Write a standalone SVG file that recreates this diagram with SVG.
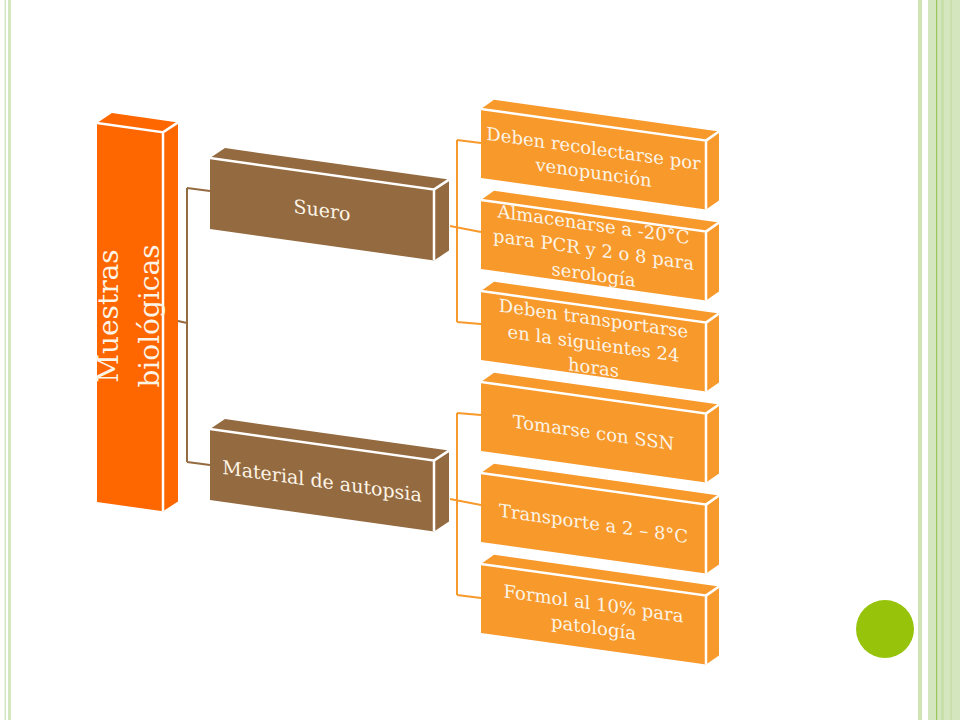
<svg xmlns="http://www.w3.org/2000/svg" width="960" height="720" viewBox="0 0 960 720">
<defs>
<style>
.main{fill:#fe6600}
.brown{fill:#946a40}
.org{fill:#f7992b}
.edge{fill:none;stroke:#ffffff;stroke-width:2.5;stroke-linejoin:miter}
.t{font-family:"DejaVu Serif","Liberation Serif",serif;fill:#fcf4e6;text-anchor:middle}
.t18{font-size:18px}
.t19{font-size:19px}
.t28{font-size:28px}
.cb{fill:none;stroke:#946a40;stroke-width:2}
.co{fill:none;stroke:#f7992b;stroke-width:2}
</style>
</defs>
<rect x="0" y="0" width="960" height="720" fill="#ffffff"/>
<g id="border">
<rect x="4.5" y="0" width="1.5" height="720" fill="#d3e6bd"/>
<rect x="8" y="0" width="3" height="720" fill="#d3e6bd"/>
<rect x="918" y="0" width="4" height="720" fill="#cfe3b5"/>
<rect x="928" y="0" width="32" height="720" fill="#d3e6bd"/>
<rect x="936" y="0" width="1.2" height="720" fill="#9cc55c"/>
<rect x="941" y="0" width="3" height="720" fill="#c7dfa9"/>
<rect x="950" y="0" width="2" height="720" fill="#c9e0ad"/>
<circle cx="885" cy="629" r="29" fill="#97c30a"/>
</g>
<g id="connectors">
<path class="cb" d="M187,188 V462 M187,188 L210,191 M187,462 L210,465 M178,321 L187,323"/>
<path class="co" d="M457,140 V322 M457,140 L481,143 M457,322 L481,324 M450,226 L481,232"/>
<path class="co" d="M457,413 V595 M457,413 L481,415 M457,595 L481,598 M450,499 L481,505"/>
</g>
<g id="n-muestras">
<g transform="translate(97,123) skewY(8)">
<path class="main" d="M0,0 L15,-12 L81,-12 L81,367 L66,379 L0,379 Z"/>
<path class="edge" d="M0,0 H66 V379 M66,0 L81,-12"/>
</g>
<text class="t t28" transform="translate(118,316) rotate(-90)">Muestras</text>
<text class="t t28" transform="translate(159,316) rotate(-90)">biológicas</text>
</g>
<g id="n-suero" transform="translate(210,158) skewY(8)">
<path class="brown" d="M0,0 L15,-12 L239,-12 L239,59 L224,71 L0,71 Z"/>
<path class="edge" d="M0,0 H224 V71 M224,0 L239,-12"/>
<text class="t t19" x="112" y="43">Suero</text>
</g>
<g id="n-autopsia" transform="translate(210,429) skewY(8)">
<path class="brown" d="M0,0 L15,-12 L239,-12 L239,59 L224,71 L0,71 Z"/>
<path class="edge" d="M0,0 H224 V71 M224,0 L239,-12"/>
<text class="t t19" x="112" y="43">Material de autopsia</text>
</g>
<g id="n-s1" transform="translate(481,109) skewY(8)">
<path class="org" d="M0,0 L13,-11 L238,-11 L238,58 L225,69 L0,69 Z"/>
<path class="edge" d="M0,0 H225 V69 M225,0 L238,-11"/>
<text class="t t18" x="112.5" y="30">Deben recolectarse por</text>
<text class="t t18" x="112.5" y="54">venopunción</text>
</g>
<g id="n-s2" transform="translate(481,200) skewY(8)">
<path class="org" d="M0,0 L13,-11 L238,-11 L238,58 L225,69 L0,69 Z"/>
<path class="edge" d="M0,0 H225 V69 M225,0 L238,-11"/>
<text class="t t18" x="112.5" y="15">Almacenarse a -20°C</text>
<text class="t t18" x="112.5" y="40">para PCR y 2 o 8 para</text>
<text class="t t18" x="112.5" y="65">serología</text>
</g>
<g id="n-s3" transform="translate(481,291) skewY(8)">
<path class="org" d="M0,0 L13,-11 L238,-11 L238,58 L225,69 L0,69 Z"/>
<path class="edge" d="M0,0 H225 V69 M225,0 L238,-11"/>
<text class="t t18" x="112.5" y="18">Deben transportarse</text>
<text class="t t18" x="112.5" y="43">en la siguientes 24</text>
<text class="t t18" x="112.5" y="67">horas</text>
</g>
<g id="n-a1" transform="translate(481,382) skewY(8)">
<path class="org" d="M0,0 L13,-11 L238,-11 L238,58 L225,69 L0,69 Z"/>
<path class="edge" d="M0,0 H225 V69 M225,0 L238,-11"/>
<text class="t t18" x="112.5" y="41">Tomarse con SSN</text>
</g>
<g id="n-a2" transform="translate(481,473) skewY(8)">
<path class="org" d="M0,0 L13,-11 L238,-11 L238,58 L225,69 L0,69 Z"/>
<path class="edge" d="M0,0 H225 V69 M225,0 L238,-11"/>
<text class="t t18" x="112.5" y="41">Transporte a 2 – 8°C</text>
</g>
<g id="n-a3" transform="translate(481,564) skewY(8)">
<path class="org" d="M0,0 L13,-11 L238,-11 L238,58 L225,69 L0,69 Z"/>
<path class="edge" d="M0,0 H225 V69 M225,0 L238,-11"/>
<text class="t t18" x="112.5" y="30">Formol al 10% para</text>
<text class="t t18" x="112.5" y="54">patología</text>
</g>
</svg>
